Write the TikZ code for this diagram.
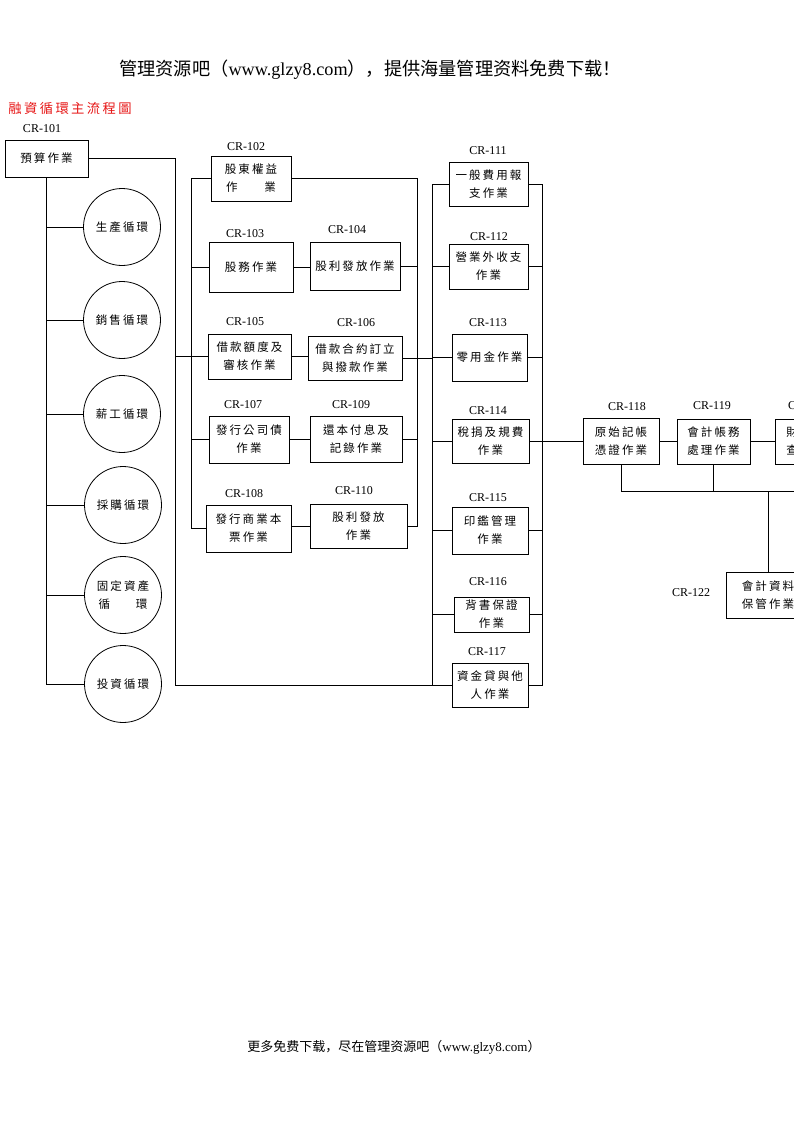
\documentclass[tikz,border=0pt]{standalone}
\usepackage{fontspec}
\setmainfont{Liberation Serif}
\newfontfamily\tcfont[LetterSpace=18]{Noto Sans CJK TC}
\newfontfamily\titlefont[LetterSpace=18]{Noto Sans CJK TC}
\newfontfamily\hdrfont{Noto Sans CJK SC}
\definecolor{titlered}{RGB}{230,20,20}
\begin{document}
\begin{tikzpicture}[x=1pt,y=-1pt,
  box/.style={draw,line width=1pt,inner sep=0pt,align=center,font=\tcfont\fontsize{11.5}{18}\selectfont},
  sz/.style 2 args={minimum width=#1pt,minimum height=#2pt},
  circ/.style={draw,circle,line width=0.8pt,minimum size=77pt,inner sep=0pt,align=center,font=\tcfont\fontsize{11.5}{18}\selectfont},
  lbl/.style={inner sep=0pt,font=\fontsize{12}{14}\selectfont},
  ln/.style={line width=1pt}]
\useasboundingbox (0,0) rectangle (793,1122);

% header / footer / title
\node[inner sep=0pt] (hdr) at (370,70) {\fontsize{18.2}{20}\selectfont{\hdrfont 管理资源吧（}www.glzy8.com{\hdrfont ），提供海量管理资料免费下载！}};
\node[inner sep=0pt] (ftr) at (394,1047) {\fontsize{13}{15}\selectfont{\hdrfont 更多免费下载，尽在管理资源吧（}www.glzy8.com{\hdrfont ）}};
\node[inner sep=0pt,text=titlered,font=\titlefont\fontsize{13.3}{15}\selectfont] (ttl) at (70,108) {融資循環主流程圖};

% column 0
\node[lbl] (l101) at (42,129) {CR-101};
\node[box,sz={83}{37}] (n101) at (46.5,158.5) {預算作業};
\node[circ] (c1) at (122,227) {生產循環};
\node[circ] (c2) at (122,320) {銷售循環};
\node[circ] (c3) at (122,414) {薪工循環};
\node[circ] (c4) at (123,505) {採購循環};
\node[circ] (c5) at (123,595) {固定資產\\循\hspace{26pt}環};
\node[circ] (c6) at (123,684) {投資循環};

% column 1 & 2
\node[lbl] (l102) at (246,147) {CR-102};
\node[box,sz={80}{45}] (n102) at (251,178.5) {股東權益\\作\hspace{27pt}業};
\node[lbl] (l103) at (245,234) {CR-103};
\node[box,sz={84}{50}] (n103) at (251,267) {股務作業};
\node[lbl] (l104) at (347,230) {CR-104};
\node[box,sz={90}{48}] (n104) at (355,266) {股利發放作業};
\node[lbl] (l105) at (245,322) {CR-105};
\node[box,sz={83}{45}] (n105) at (249.5,356.5) {借款額度及\\審核作業};
\node[lbl] (l106) at (356,323) {CR-106};
\node[box,sz={94}{44}] (n106) at (355,358) {借款合約訂立\\與撥款作業};
\node[lbl] (l107) at (243,405) {CR-107};
\node[box,sz={80}{47}] (n107) at (249,439.5) {發行公司債\\作業};
\node[lbl] (l109) at (351,405) {CR-109};
\node[box,sz={92}{46}] (n109) at (356,439) {還本付息及\\記錄作業};
\node[lbl] (l108) at (244,494) {CR-108};
\node[box,sz={85}{47}] (n108) at (248.5,528.5) {發行商業本\\票作業};
\node[lbl] (l110) at (354,491) {CR-110};
\node[box,sz={97}{44}] (n110) at (358.5,526) {股利發放\\作業};

% column 3
\node[lbl] (l111) at (488,151) {CR-111};
\node[box,sz={79}{44}] (n111) at (488.5,184) {一般費用報\\支作業};
\node[lbl] (l112) at (489,237) {CR-112};
\node[box,sz={79}{45}] (n112) at (488.5,266.5) {營業外收支\\作業};
\node[lbl] (l113) at (488,323) {CR-113};
\node[box,sz={75}{47}] (n113) at (489.5,357.5) {零用金作業};
\node[lbl] (l114) at (488,411) {CR-114};
\node[box,sz={77}{44}] (n114) at (490.5,441) {稅捐及規費\\作業};
\node[lbl] (l115) at (488,498) {CR-115};
\node[box,sz={76}{47}] (n115) at (490,530.5) {印鑑管理\\作業};
\node[lbl] (l116) at (488,582) {CR-116};
\node[box,sz={75}{35}] (n116) at (491.5,614.5) {背書保證\\作業};
\node[lbl] (l117) at (487,652) {CR-117};
\node[box,sz={76}{44}] (n117) at (490,685) {資金貸與他\\人作業};

% column 4
\node[lbl] (l118) at (627,407) {CR-118};
\node[box,sz={76}{46}] (n118) at (621,441) {原始記帳\\憑證作業};
\node[lbl] (l119) at (712,406) {CR-119};
\node[box,sz={73}{45}] (n119) at (713.5,441.5) {會計帳務\\處理作業};
\node[lbl] (l120) at (807,406) {CR-120};
\node[box,sz={75}{45}] (n120) at (812.5,441.5) {財務報表\\查核作業};
\node[lbl] (l122) at (691,593) {CR-122};
\node[box,sz={84}{46}] (n122) at (768,595) {會計資料\\保管作業};

% junction coordinates
\coordinate (J1) at (175,685);
\coordinate (V2) at (191,528.5);
\coordinate (V3) at (417,526);
\coordinate (V4) at (432,685);
\coordinate (V5) at (542,685);
\coordinate (B) at (768,491);

% left trunk
\draw[ln] (n101.south) -- (n101.south |- c6.west) -- (c6.west);
\foreach \c in {c1,c2,c3,c4,c5} \draw[ln] (\c.west) -- (\c.west -| n101.south);
% second trunk
\draw[ln] (n101.east) -| (J1) -- (n117.west);
\draw[ln] (n105.west -| J1) -- (n105.west -| V2);
% x=191 trunk
\draw[ln] (n102.west) -| (V2) -- (n108.west);
\foreach \n in {n103,n105,n107} \draw[ln] (\n.west) -- (\n.west -| V2);
% pairs
\draw[ln] (n103.east) -- (n103.east -| n104.west);
\draw[ln] (n105.east) -- (n105.east -| n106.west);
\draw[ln] (n107.east) -- (n107.east -| n109.west);
\draw[ln] (n108.east |- n110.west) -- (n110.west);
% x=417 trunk
\draw[ln] (n102.east) -| (V3) -- (n110.east);
\draw[ln] (n104.east) -- (n104.east -| V3);
\draw[ln] (n109.east) -- (n109.east -| V3);
\draw[ln] (n106.east) -- (n106.east -| V4);
% x=432 trunk
\draw[ln] (n111.west) -| (V4);
\foreach \n in {n112,n113,n114,n115,n116} \draw[ln] (\n.west) -- (\n.west -| V4);
% x=542 trunk
\draw[ln] (n111.east) -| (V5) -- (n117.east);
\foreach \n in {n112,n113,n115,n116} \draw[ln] (\n.east) -- (\n.east -| V5);
\draw[ln] (n114.east) -- (n118.west);
% accounting chain
\draw[ln] (n118.east) -- (n118.east -| n119.west);
\draw[ln] (n119.east) -- (n119.east -| n120.west);
\draw[ln] (n118.south) -- (n118.south |- B) -- (n120.south |- B) -- (n120.south);
\draw[ln] (n119.south) -- (n119.south |- B);
\draw[ln] (B) -- (n122.north);
\end{tikzpicture}
\end{document}
